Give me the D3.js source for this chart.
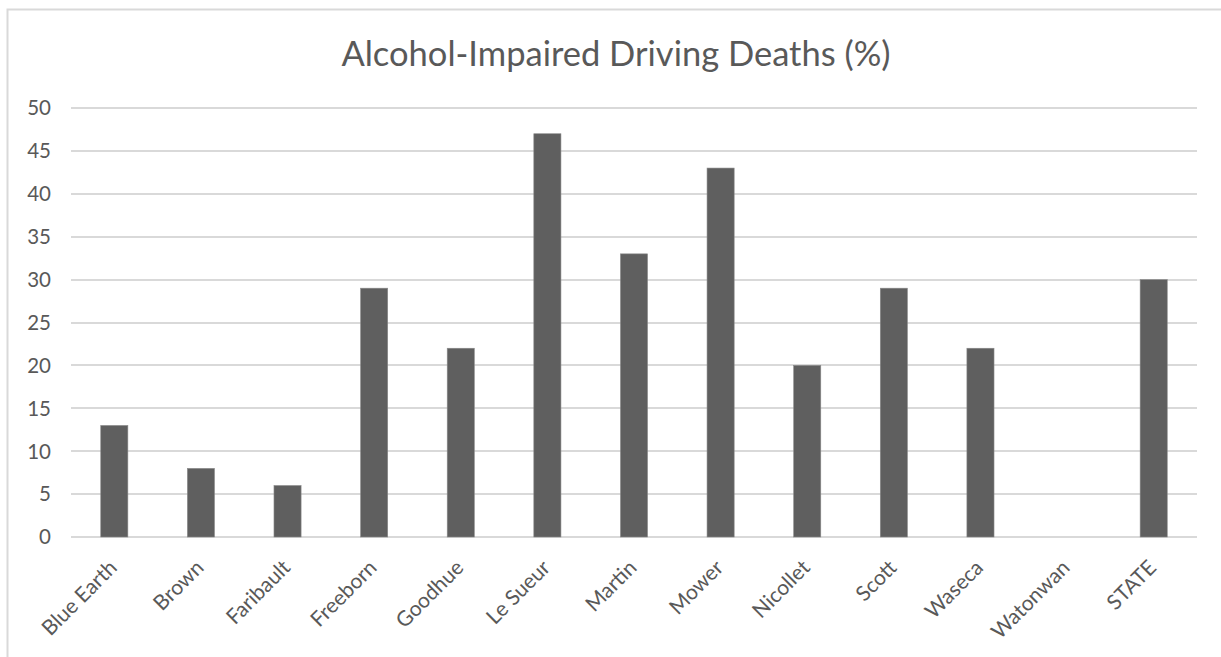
<!DOCTYPE html>
<html><head><meta charset="utf-8">
<script src="https://cdn.jsdelivr.net/npm/d3@7"></script>
<style>
html,body{margin:0;padding:0;background:#fff;}
svg{display:block;}
text{font-family:Lato,"Open Sans",sans-serif;fill:#595959;}
</style></head>
<body>
<svg id="chart" width="1221" height="657"></svg>
<script>
(function(){
const title = "Alcohol-Impaired Driving Deaths (%)";
const categories = ["Blue Earth","Brown","Faribault","Freeborn","Goodhue","Le Sueur","Martin","Mower","Nicollet","Scott","Waseca","Watonwan","STATE"];
const values = [13,8,6,29,22,47,33,43,20,29,22,null,30];
const yTicks = [0,5,10,15,20,25,30,35,40,45,50];

const svg = d3.select("#chart");
const W = 1221, H = 657;
const mLeft = 71, mRight = 1197, mTop = 108, mBottom = 537;

// outer border
svg.append("rect").attr("x",7.5).attr("y",9.5).attr("width",W).attr("height",H)
  .attr("fill","none").attr("stroke","#d9d9d9").attr("stroke-width",2);

const x = d3.scaleBand().domain(categories).range([mLeft,mRight]).paddingInner(0.687).paddingOuter(0.3435);
const y = d3.scaleLinear().domain([0,50]).range([mBottom,mTop]);

// gridlines
svg.append("g").selectAll("line").data(yTicks).join("line")
  .attr("x1",mLeft).attr("x2",mRight)
  .attr("y1",d=>Math.round(y(d))).attr("y2",d=>Math.round(y(d)))
  .attr("stroke","#d9d9d9").attr("stroke-width",2);

// y labels
svg.append("g").selectAll("text").data(yTicks).join("text")
  .attr("x",51).attr("y",d=>y(d)).attr("dy","0.36em")
  .attr("text-anchor","end").attr("font-size",20.5).text(d=>d);

// bars
svg.append("g").selectAll("rect").data(categories.map((c,i)=>({c,v:values[i]})).filter(d=>d.v!=null)).join("rect")
  .attr("x",d=>x(d.c)).attr("width",x.bandwidth())
  .attr("y",d=>y(d.v)).attr("height",d=>y(0)-y(d.v))
  .attr("fill","#5f5f5f").attr("stroke","#8a8a8a").attr("stroke-width",0.6);

// x labels
svg.append("g").selectAll("text").data(categories).join("text")
  .attr("transform",d=>`translate(${x(d)+x.bandwidth()/2+4},${569}) rotate(-45)`)
  .attr("text-anchor","end").attr("font-size",21).text(d=>d);

// title
svg.append("text").attr("x",616).attr("y",65.5).attr("text-anchor","middle")
  .attr("font-size",34.5).text(title);
})();
</script>
</body></html>
